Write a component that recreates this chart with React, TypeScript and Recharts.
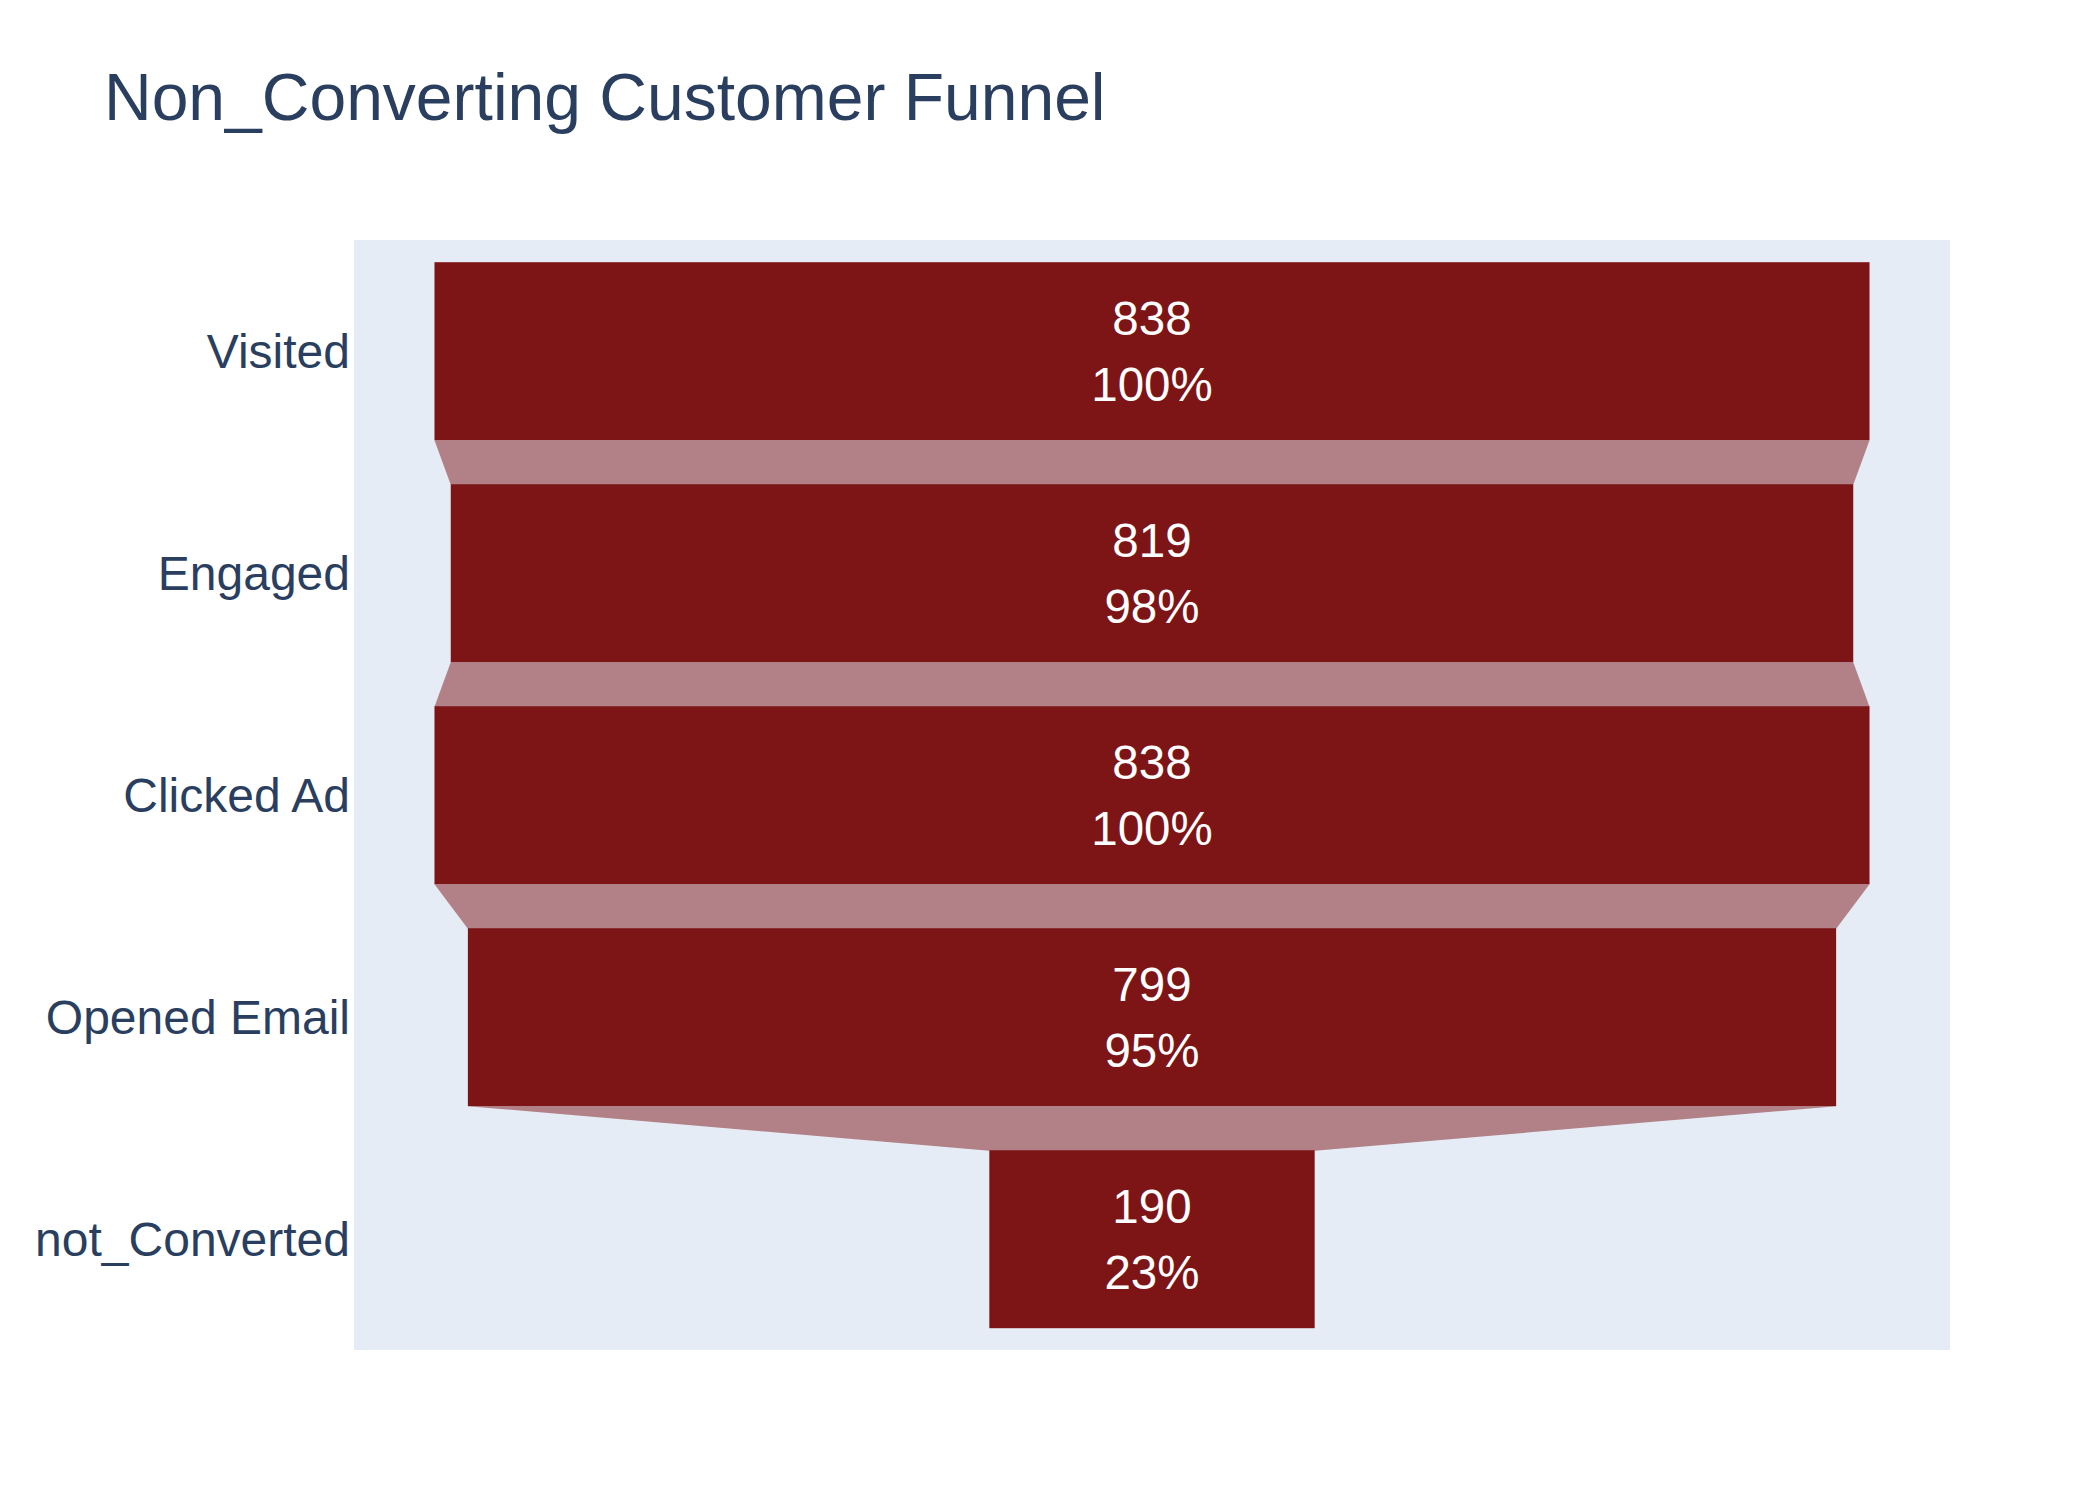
import React from "react";
import { Bar, BarChart, CartesianGrid, LabelList, XAxis, YAxis } from "recharts";

// Funnel stages, top to bottom, and the count at each stage.
const stages = ["Visited", "Engaged", "Clicked Ad", "Opened Email", "not_Converted"];
const counts = [838, 819, 838, 799, 190];

const BAR = "#7D1517";
const INK = "#2a3f5f";
const FONT = "'Liberation Sans', Arial, Helvetica, sans-serif";

// Each row is drawn as a range bar centred on zero, so the x scale places it.
const rows = stages.map((stage, i) => ({
  stage,
  count: counts[i],
  span: [-counts[i] / 2, counts[i] / 2],
  next: i < counts.length - 1 ? counts[i + 1] : null,
  pct: Math.round((counts[i] / counts[0]) * 100),
}));

function FunnelBar(props: any) {
  const { x, y, width, height, payload } = props;
  const pxPerUnit = width / payload.count;
  const cx = x + width / 2;
  // bars take 80% of the band, so the gap below is a quarter of the bar height
  const gap = height / 4;
  let connector = null;
  if (payload.next != null) {
    const half = (payload.next * pxPerUnit) / 2;
    const yb = y + height;
    const pts = [
      [x, yb],
      [x + width, yb],
      [cx + half, yb + gap],
      [cx - half, yb + gap],
    ]
      .map((p) => p.join(","))
      .join(" ");
    connector = <polygon points={pts} fill={BAR} fillOpacity={0.5} stroke="none" />;
  }
  return (
    <g>
      <rect x={x} y={y} width={width} height={height} fill={BAR} />
      {connector}
    </g>
  );
}

function StageLabel(props: any) {
  const { x, y, width, height, index } = props;
  const row = rows[index];
  const cx = x + width / 2;
  const cy = y + height / 2;
  return (
    <g fill="#ffffff" fontFamily={FONT} fontSize={47.5} textAnchor="middle">
      <text x={cx} y={cy - 33} dominantBaseline="central">
        {row.count}
      </text>
      <text x={cx} y={cy + 33} dominantBaseline="central">
        {row.pct}%
      </text>
    </g>
  );
}

export default function App() {
  return (
    <div
      style={{
        position: "absolute",
        left: 0,
        top: 0,
        width: 2100,
        height: 1500,
        background: "#ffffff",
        fontFamily: FONT,
      }}
    >
      <div
        style={{
          position: "absolute",
          left: 104,
          top: 60,
          fontSize: 66,
          color: INK,
          lineHeight: "75px",
          whiteSpace: "nowrap",
        }}
      >
        Non_Converting Customer Funnel
      </div>
      <BarChart
        width={2100}
        height={1500}
        data={rows}
        layout="vertical"
        margin={{ top: 240, right: 150, bottom: 150, left: 0 }}
        barCategoryGap="10%"
      >
        <CartesianGrid horizontal={false} vertical={false} fill="#E5ECF6" stroke="none" />
        <XAxis type="number" domain={[-466, 466]} hide allowDataOverflow />
        <YAxis
          type="category"
          dataKey="stage"
          width={354}
          axisLine={false}
          tickLine={false}
          tickSize={0}
          tickMargin={4}
          tick={{ fill: INK, fontSize: 48, fontFamily: FONT }}
        />
        <Bar dataKey="span" shape={<FunnelBar />} isAnimationActive={false}>
          <LabelList dataKey="count" content={<StageLabel />} />
        </Bar>
      </BarChart>
    </div>
  );
}
